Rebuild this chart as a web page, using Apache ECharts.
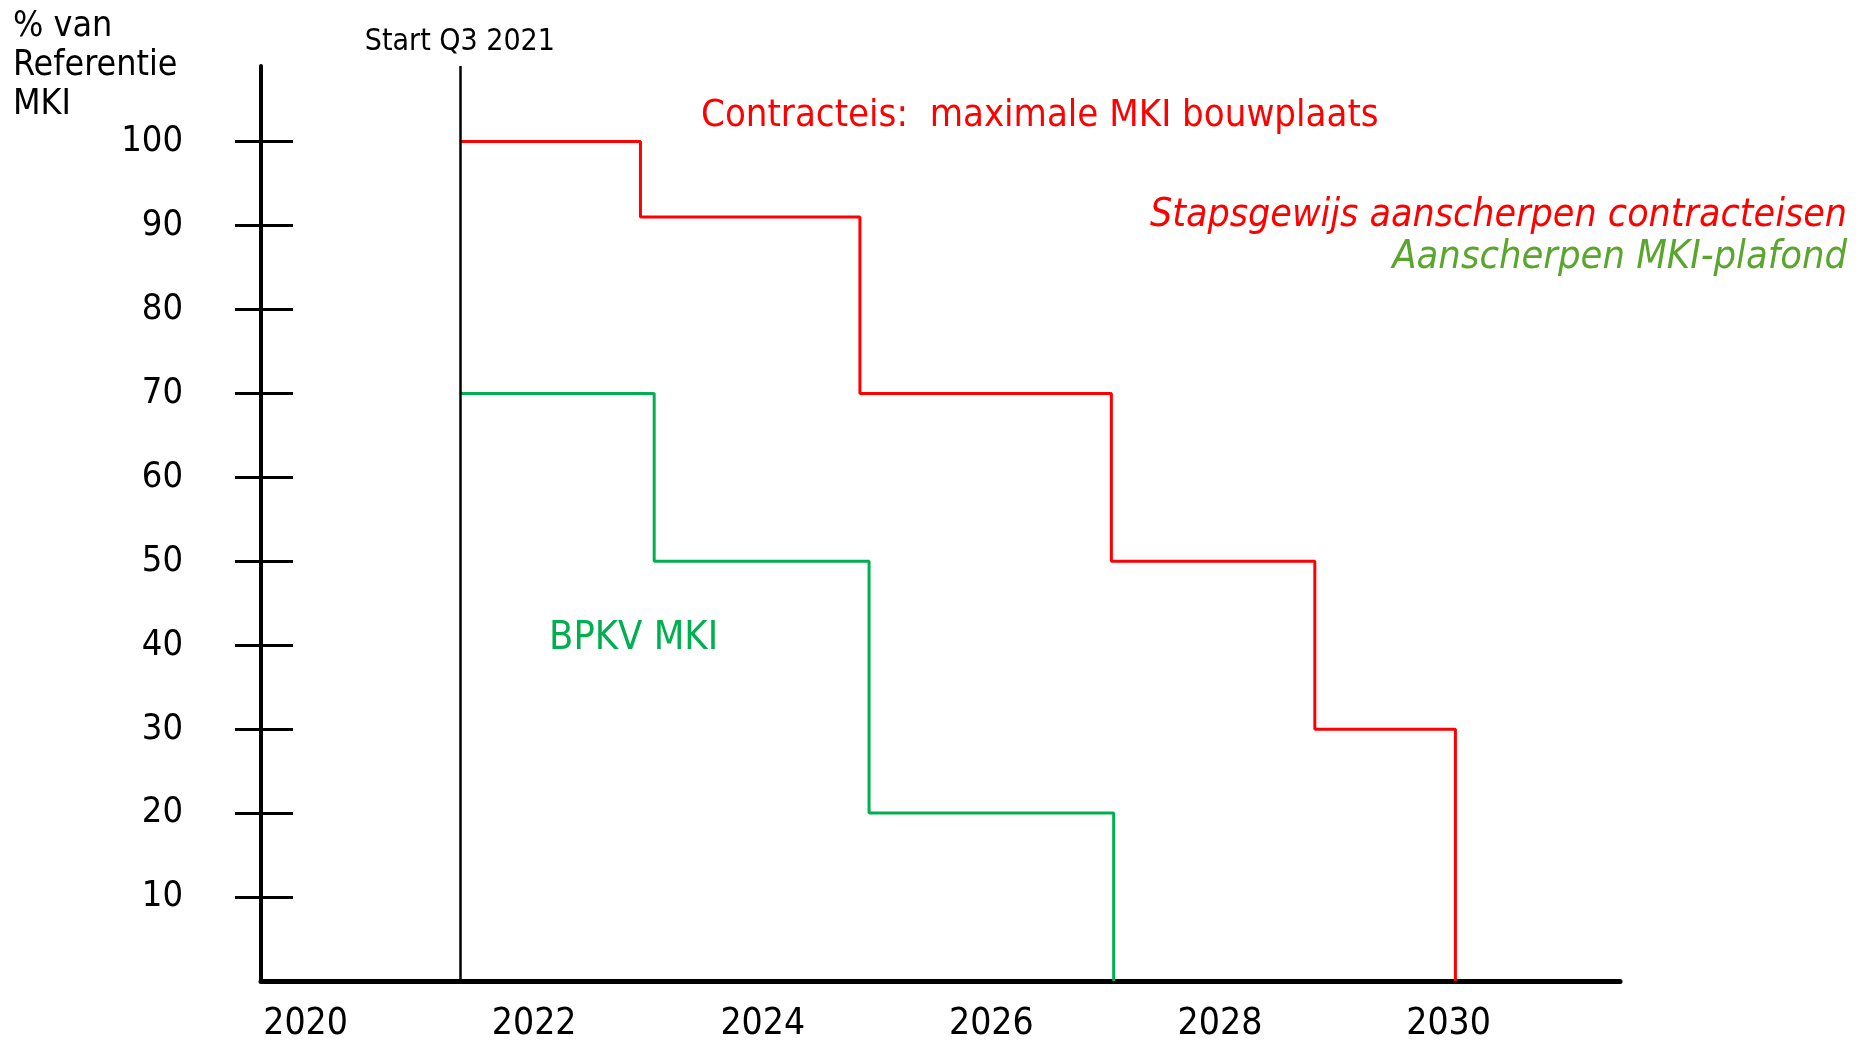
<!DOCTYPE html>
<html>
<head>
<meta charset="utf-8">
<script src="https://cdn.jsdelivr.net/npm/echarts@6/dist/echarts.min.js"></script>
<style>
html, body { margin: 0; padding: 0; background: #fff; }
#chart { width: 1873px; height: 1043px; }
</style>
</head>
<body>
<div id="chart"></div>
<script>
// waarden
const yearTicks = [2020, 2022, 2024, 2026, 2028, 2030];
const pctTicks = [10, 20, 30, 40, 50, 60, 70, 80, 90, 100];
const startQ3 = 2021.35;
const contractYears = [2021.35, 2022.93, 2024.85, 2027.05, 2028.83, 2030.06];
const contractPct = [100, 91, 70, 50, 30, 0];
const bpkvYears = [2021.35, 2023.05, 2024.93, 2027.07];
const bpkvPct = [70, 50, 20, 0];

const FONT = "'DejaVu Sans Condensed', 'DejaVu Sans', sans-serif";
const red = '#ff0000';
const green = '#00b050';

const zip = (xs, ys) => xs.map((x, i) => [x, ys[i]]);

const chart = echarts.init(document.getElementById('chart'));

const option = {
    animation: false,
    backgroundColor: '#ffffff',
    grid: { left: 261, right: 253, top: 66, bottom: 61, containLabel: false },
    xAxis: {
        type: 'value',
        min: 2019.61,
        max: 2031.5,
        splitLine: { show: false },
        axisTick: { show: false },
        axisLine: { show: true, onZero: false, lineStyle: { color: '#000', width: 5 } },
        axisLabel: {
            customValues: yearTicks,
            formatter: v => String(v),
            margin: 25,
            fontFamily: FONT,
            fontSize: 37,
            color: '#000'
        }
    },
    yAxis: [{
        type: 'value',
        min: 0,
        max: 109,
        splitLine: { show: false },
        axisLine: { show: true, onZero: false, lineStyle: { color: '#000', width: 4 } },
        axisTick: {
            show: true,
            customValues: pctTicks,
            length: 26,
            lineStyle: { color: '#000', width: 3 }
        },
        axisLabel: {
            customValues: pctTicks,
            margin: 78,
            fontFamily: FONT,
            fontSize: 36,
            color: '#000'
        }
    }, {
        // tweede as alleen voor het deel van de streepjes binnen de grafiek
        type: 'value',
        position: 'left',
        min: 0,
        max: 109,
        splitLine: { show: false },
        axisLine: { show: false },
        axisLabel: { show: false },
        axisTick: {
            show: true,
            inside: true,
            customValues: pctTicks,
            length: 32,
            lineStyle: { color: '#000', width: 3 }
        }
    }],
    graphic: [
        {
            type: 'text', left: 13, top: 7,
            style: { text: '% van\nReferentie\nMKI', font: '35.5px ' + FONT, fill: '#000', lineHeight: 39 }
        },
        {
            type: 'text', x: 701, y: 116,
            style: { text: 'Contracteis:  maximale MKI bouwplaats', font: '38px ' + FONT, fill: red, verticalAlign: 'middle', textVerticalAlign: 'middle' }
        },
        {
            type: 'text', x: 1847, y: 216,
            style: { text: 'Stapsgewijs aanscherpen contracteisen', font: 'italic 39px ' + FONT, fill: red, align: 'right', textAlign: 'right', verticalAlign: 'middle', textVerticalAlign: 'middle' }
        },
        {
            type: 'text', x: 1847, y: 258,
            style: { text: 'Aanscherpen MKI-plafond', font: 'italic 39.5px ' + FONT, fill: '#5aa52c', align: 'right', textAlign: 'right', verticalAlign: 'middle', textVerticalAlign: 'middle' }
        },
        {
            type: 'text', x: 549, y: 639,
            style: { text: 'BPKV MKI', font: '39.5px ' + FONT, fill: green, verticalAlign: 'middle', textVerticalAlign: 'middle' }
        }
    ],
    series: [
        {
            name: 'Contracteis',
            type: 'line',
            step: 'end',
            symbol: 'none',
            lineStyle: { color: red, width: 3 },
            data: zip(contractYears, contractPct),
            markLine: {
                silent: true,
                symbol: ['none', 'none'],
                lineStyle: { color: '#000', width: 2.5, type: 'solid' },
                label: {
                    show: true,
                    position: 'end',
                    distance: 9,
                    formatter: 'Start Q3 2021',
                    fontFamily: FONT,
                    fontSize: 30,
                    color: '#000'
                },
                data: [{ xAxis: startQ3 }]
            }
        },
        {
            name: 'BPKV MKI',
            type: 'line',
            step: 'end',
            symbol: 'none',
            lineStyle: { color: green, width: 3 },
            data: zip(bpkvYears, bpkvPct)
        }
    ]
};

chart.setOption(option);
</script>
</body>
</html>
